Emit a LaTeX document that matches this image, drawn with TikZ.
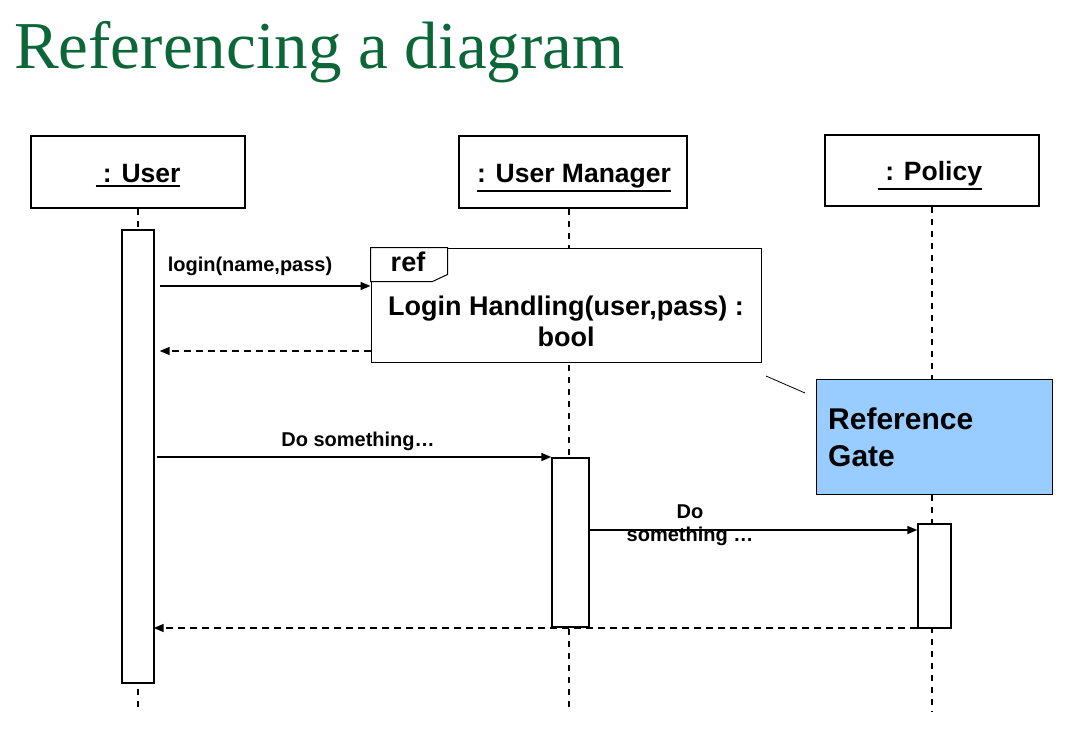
\documentclass[tikz,border=0pt]{standalone}
\usepackage{fontspec}
\setmainfont{Liberation Sans}
\newfontfamily\titlefont{Liberation Serif}
\usetikzlibrary{arrows.meta}
\definecolor{titlegreen}{HTML}{0B6638}
\definecolor{gateblue}{HTML}{99CCFF}
\newcommand\myul[1]{\leavevmode\vtop{\hbox{#1}\kern2.5pt\hrule height 2.2pt}}
\begin{document}
\begin{tikzpicture}[x=1pt,y=-1pt,
  header/.style={draw,line width=1.6pt,fill=white,inner sep=0pt,font=\fontsize{26.5}{28}\selectfont\bfseries},
  act/.style={draw,line width=1.4pt,fill=white,inner sep=0pt,minimum width=#1},
  lifeline/.style={line width=1.5pt,dash pattern=on 6pt off 6pt},
  msg/.style={line width=1.5pt,-{Triangle[length=10pt,width=8pt]}},
  ret/.style={line width=1.5pt,dash pattern=on 7pt off 5pt,-{Triangle[length=10pt,width=8pt]}},
  lbl/.style={font=\fontsize{20}{23}\selectfont\bfseries,inner sep=0pt},
  reftxt/.style={font=\fontsize{27}{31}\selectfont\bfseries,align=center,inner sep=0pt}
]
\useasboundingbox (0,0) rectangle (1075,744);
% title
\node[anchor=base west,inner sep=0pt,text=titlegreen,font=\titlefont\fontsize{67}{67}\selectfont] (title) at (14,68) {Referencing a diagram};
% headers
\node[header,minimum width=214pt,minimum height=72pt] (hu) at (138,172) {};
\node[header,minimum width=228pt,minimum height=72pt] (hm) at (573,172) {};
\node[header,minimum width=214pt,minimum height=71pt] (hp) at (932,170.5) {};
\node[font=\fontsize{26.5}{28}\selectfont\bfseries,inner sep=0pt,anchor=base] (tu) at (138,182) {\myul{\ : User}};
\node[font=\fontsize{26.5}{28}\selectfont\bfseries,inner sep=0pt,anchor=base] (tm) at (574,182) {\myul{: User Manager}};
\node[font=\fontsize{26.5}{28}\selectfont\bfseries,inner sep=0pt,anchor=base] (tp) at (930,180) {\myul{\ : Policy}};
% lifeline ends
\coordinate (eu) at (138,712);
\coordinate (em) at (569,712);
\coordinate (ep) at (932,712);
\draw[lifeline] (hu.south) -- (eu);
\draw[lifeline] (hm.south -| em) -- (em);
\draw[lifeline] (hp.south) -- (ep);
% activations
\node[act=32pt,minimum height=453pt] (au) at (138,456.5) {};
\node[act=37pt,minimum height=169pt] (am) at (570.5,542.5) {};
\node[act=33pt,minimum height=104pt] (ap) at (934.5,576) {};
% ref frame
\node[draw,line width=1pt,fill=white,minimum width=390pt,minimum height=114pt,inner sep=0pt] (ref) at (566,305) {};
\draw[line width=1pt,fill=white] (ref.north west) -- ++(77,0) -- ++(0,27) -- ++(-15,7) -- ++(-62,0) -- cycle;
\node[reftxt] (reftag) at (408,262) {ref};
\node[reftxt] (reflabel) at (566,321) {Login Handling(user,pass) :\\bool};
% gate
\node[draw,line width=1pt,fill=gateblue,minimum width=236pt,minimum height=115pt,inner sep=0pt] (gate) at (934,436.5) {};
\node[anchor=west,align=left,inner sep=0pt,font=\fontsize{30}{37}\selectfont\bfseries] (gatetxt) at (828,437) {Reference\\Gate};
\coordinate (g1) at (766,376);
\coordinate (g2) at (805,393);
\draw[line width=0.8pt] (g1) -- (g2);
% messages
\coordinate (m1) at (0,286);
\coordinate (m2) at (0,351);
\coordinate (m3) at (0,457);
\coordinate (m4) at (0,530);
\coordinate (m5) at (0,628);
\draw[msg] ([xshift=5pt]au.east |- m1) -- (ref.west |- m1);
\node[lbl] (l1) at (250,266) {login(name,pass)};
\draw[ret] (ref.west |- m2) -- ([xshift=5pt]au.east |- m2);
\draw[msg] ([xshift=2pt]au.east |- m3) -- (am.west |- m3);
\node[lbl] (l3) at (358,441) {Do something\ldots};
\draw[msg] (am.east |- m4) -- (ap.west |- m4);
\node[lbl,align=center,font=\fontsize{20}{23}\selectfont\bfseries] (l4) at (690,525) {Do\\something \ldots};
\draw[ret] (ap.west |- m5) -- ([xshift=-1pt]au.east |- m5);
\end{tikzpicture}
\end{document}
